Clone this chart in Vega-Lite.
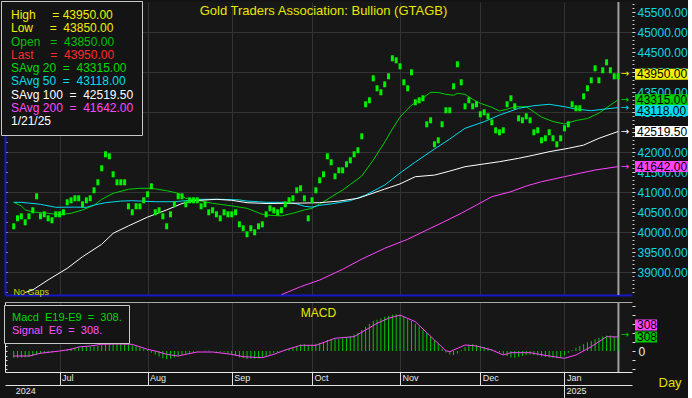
{
  "$schema": "https://vega.github.io/schema/vega-lite/v6.json",
  "background": "#131313",
  "padding": 0,
  "autosize": {"type": "pad"},
  "spacing": 5,
  "config": {
    "view": {"fill": "#171717", "stroke": null},
    "font": "Liberation Sans",
    "axis": {"labelFont": "Liberation Sans", "titleFont": "Liberation Sans"},
    "legend": {"labelFont": "Liberation Sans"}
  },
  "resolve": {"scale": {"color": "independent", "x": "independent", "y": "independent"}, "legend": {"color": "independent"}},
  "datasets": {
    "px": [
      {"i":0,"p":40150},{"i":1,"p":40350},{"i":2,"p":40400},{"i":3,"p":40250},{"i":4,"p":40400},{"i":5,"p":40550},{"i":6,"p":40900},{"i":7,"p":40400},{"i":8,"p":40450},{"i":9,"p":40350},
      {"i":10,"p":40300},{"i":11,"p":40450},{"i":12,"p":40450},{"i":13,"p":40500},{"i":14,"p":40750},{"i":15,"p":40800},{"i":16,"p":40850},{"i":17,"p":40850},{"i":18,"p":40700},{"i":19,"p":40800},
      {"i":20,"p":40850},{"i":21,"p":41050},{"i":22,"p":41250},{"i":23,"p":41600},{"i":24,"p":41950},{"i":25,"p":41900},{"i":26,"p":41450},{"i":27,"p":41250},{"i":28,"p":41250},{"i":29,"p":41250},
      {"i":30,"p":40650},{"i":31,"p":40500},{"i":32,"p":40650},{"i":33,"p":40650},{"i":34,"p":40800},{"i":35,"p":40950},{"i":36,"p":41150},{"i":37,"p":40500},{"i":38,"p":40550},{"i":39,"p":40400},
      {"i":40,"p":40150},{"i":41,"p":40450},{"i":42,"p":40700},{"i":43,"p":40900},{"i":44,"p":40900},{"i":45,"p":40700},{"i":46,"p":40800},{"i":47,"p":40800},{"i":48,"p":40800},{"i":49,"p":40650},
      {"i":50,"p":40700},{"i":51,"p":40500},{"i":52,"p":40550},{"i":53,"p":40450},{"i":54,"p":40350},{"i":55,"p":40500},{"i":56,"p":40450},{"i":57,"p":40450},{"i":58,"p":40500},{"i":59,"p":40200},
      {"i":60,"p":40100},{"i":61,"p":39950},{"i":62,"p":40100},{"i":63,"p":40000},{"i":64,"p":40150},{"i":65,"p":40200},{"i":66,"p":40450},{"i":67,"p":40600},{"i":68,"p":40550},{"i":69,"p":40500},
      {"i":70,"p":40550},{"i":71,"p":40700},{"i":72,"p":40800},{"i":73,"p":40850},{"i":74,"p":41050},{"i":75,"p":41100},{"i":76,"p":40850},{"i":77,"p":40350},{"i":78,"p":40800},{"i":79,"p":41050},
      {"i":80,"p":41300},{"i":81,"p":41450},{"i":82,"p":41900},{"i":83,"p":41750},{"i":84,"p":41400},{"i":85,"p":41550},{"i":86,"p":41550},{"i":87,"p":41700},{"i":88,"p":41800},{"i":89,"p":41950},
      {"i":90,"p":42050},{"i":91,"p":42400},{"i":92,"p":43200},{"i":93,"p":43300},{"i":94,"p":43850},{"i":95,"p":43600},{"i":96,"p":43500},{"i":97,"p":43700},{"i":98,"p":43900},{"i":99,"p":44350},
      {"i":100,"p":44300},{"i":101,"p":44150},{"i":102,"p":43750},{"i":103,"p":43600},{"i":104,"p":44000},{"i":105,"p":43250},{"i":106,"p":43300},{"i":107,"p":43350},{"i":108,"p":42700},{"i":109,"p":42800},
      {"i":110,"p":42200},{"i":111,"p":42300},{"i":112,"p":42700},{"i":113,"p":43050},{"i":114,"p":43050},{"i":115,"p":43650},{"i":116,"p":44200},{"i":117,"p":43750},{"i":118,"p":43150},{"i":119,"p":43300},
      {"i":120,"p":43150},{"i":121,"p":43200},{"i":122,"p":42950},{"i":123,"p":43000},{"i":124,"p":42900},{"i":125,"p":42750},{"i":126,"p":42550},{"i":127,"p":42500},{"i":128,"p":42550},{"i":129,"p":43200},
      {"i":130,"p":43350},{"i":131,"p":43150},{"i":132,"p":42850},{"i":133,"p":42800},{"i":134,"p":42900},{"i":135,"p":42800},{"i":136,"p":42500},{"i":137,"p":42550},{"i":138,"p":42300},{"i":139,"p":42350},
      {"i":140,"p":42500},{"i":141,"p":42350},{"i":142,"p":42200},{"i":143,"p":42350},{"i":144,"p":42600},{"i":145,"p":42700},{"i":146,"p":43200},{"i":147,"p":43100},{"i":148,"p":43100},{"i":149,"p":43400},
      {"i":150,"p":43600},{"i":151,"p":43800},{"i":152,"p":44100},{"i":153,"p":43800},{"i":154,"p":44050},{"i":155,"p":44250},{"i":156,"p":44050},{"i":157,"p":43900},{"i":158,"p":43900}
    ],
    "ma": [
      {"s":"SAvg 20","i":0,"v":40750},{"s":"SAvg 20","i":2,"v":40660},{"s":"SAvg 20","i":3,"v":40560},{"s":"SAvg 20","i":5,"v":40510},{"s":"SAvg 20","i":9,"v":40475},{"s":"SAvg 20","i":12,"v":40440},{"s":"SAvg 20","i":15,"v":40475},{"s":"SAvg 20","i":18,"v":40560},{"s":"SAvg 20","i":21,"v":40675},{"s":"SAvg 20","i":23,"v":40825},{"s":"SAvg 20","i":26,"v":40975},{"s":"SAvg 20","i":30,"v":41075},{"s":"SAvg 20","i":33,"v":41100},{"s":"SAvg 20","i":36,"v":41100},{"s":"SAvg 20","i":40,"v":41040},{"s":"SAvg 20","i":43,"v":40975},{"s":"SAvg 20","i":45,"v":40850},{"s":"SAvg 20","i":49,"v":40780},{"s":"SAvg 20","i":52,"v":40725},{"s":"SAvg 20","i":57,"v":40660},{"s":"SAvg 20","i":61,"v":40600},{"s":"SAvg 20","i":65,"v":40450},{"s":"SAvg 20","i":67,"v":40425},{"s":"SAvg 20","i":70,"v":40410},{"s":"SAvg 20","i":73,"v":40475},{"s":"SAvg 20","i":76,"v":40560},{"s":"SAvg 20","i":78,"v":40600},{"s":"SAvg 20","i":80,"v":40707},{"s":"SAvg 20","i":83,"v":40882},{"s":"SAvg 20","i":86,"v":41057},{"s":"SAvg 20","i":88,"v":41195},{"s":"SAvg 20","i":91,"v":41407},{"s":"SAvg 20","i":94,"v":41807},{"s":"SAvg 20","i":97,"v":42257},{"s":"SAvg 20","i":99,"v":42582},{"s":"SAvg 20","i":101,"v":42882},{"s":"SAvg 20","i":104,"v":43180},{"s":"SAvg 20","i":106,"v":43290},{"s":"SAvg 20","i":109,"v":43500},{"s":"SAvg 20","i":111,"v":43495},{"s":"SAvg 20","i":113,"v":43450},{"s":"SAvg 20","i":115,"v":43425},{"s":"SAvg 20","i":116,"v":43475},{"s":"SAvg 20","i":118,"v":43450},{"s":"SAvg 20","i":120,"v":43325},{"s":"SAvg 20","i":122,"v":43225},{"s":"SAvg 20","i":125,"v":43125},{"s":"SAvg 20","i":127,"v":43035},{"s":"SAvg 20","i":129,"v":43075},{"s":"SAvg 20","i":131,"v":43140},{"s":"SAvg 20","i":134,"v":43140},{"s":"SAvg 20","i":138,"v":42880},{"s":"SAvg 20","i":141,"v":42770},{"s":"SAvg 20","i":144,"v":42707},{"s":"SAvg 20","i":147,"v":42795},{"s":"SAvg 20","i":150,"v":42845},{"s":"SAvg 20","i":153,"v":42980},{"s":"SAvg 20","i":156,"v":43180},{"s":"SAvg 20","i":158,"v":43315},
      {"s":"SAvg 50","i":0,"v":40750},{"s":"SAvg 50","i":2,"v":40750},{"s":"SAvg 50","i":7,"v":40700},{"s":"SAvg 50","i":11,"v":40625},{"s":"SAvg 50","i":16,"v":40630},{"s":"SAvg 50","i":19,"v":40625},{"s":"SAvg 50","i":21,"v":40680},{"s":"SAvg 50","i":24,"v":40740},{"s":"SAvg 50","i":28,"v":40780},{"s":"SAvg 50","i":31,"v":40790},{"s":"SAvg 50","i":37,"v":40765},{"s":"SAvg 50","i":42,"v":40765},{"s":"SAvg 50","i":45,"v":40790},{"s":"SAvg 50","i":49,"v":40825},{"s":"SAvg 50","i":54,"v":40825},{"s":"SAvg 50","i":59,"v":40810},{"s":"SAvg 50","i":61,"v":40780},{"s":"SAvg 50","i":64,"v":40765},{"s":"SAvg 50","i":66,"v":40750},{"s":"SAvg 50","i":71,"v":40750},{"s":"SAvg 50","i":74,"v":40710},{"s":"SAvg 50","i":76,"v":40650},{"s":"SAvg 50","i":78,"v":40630},{"s":"SAvg 50","i":80,"v":40675},{"s":"SAvg 50","i":83,"v":40710},{"s":"SAvg 50","i":88,"v":40790},{"s":"SAvg 50","i":92,"v":40930},{"s":"SAvg 50","i":97,"v":41182},{"s":"SAvg 50","i":101,"v":41482},{"s":"SAvg 50","i":105,"v":41757},{"s":"SAvg 50","i":110,"v":42082},{"s":"SAvg 50","i":114,"v":42332},{"s":"SAvg 50","i":118,"v":42600},{"s":"SAvg 50","i":123,"v":42765},{"s":"SAvg 50","i":127,"v":42930},{"s":"SAvg 50","i":132,"v":43100},{"s":"SAvg 50","i":136,"v":43165},{"s":"SAvg 50","i":140,"v":43200},{"s":"SAvg 50","i":144,"v":43140},{"s":"SAvg 50","i":147,"v":43080},{"s":"SAvg 50","i":151,"v":43040},{"s":"SAvg 50","i":154,"v":43075},{"s":"SAvg 50","i":158,"v":43118},
      {"s":"SAvg 100","i":3,"v":38495},{"s":"SAvg 100","i":5,"v":38560},{"s":"SAvg 100","i":9,"v":38810},{"s":"SAvg 100","i":14,"v":39100},{"s":"SAvg 100","i":18,"v":39390},{"s":"SAvg 100","i":23,"v":39700},{"s":"SAvg 100","i":26,"v":39975},{"s":"SAvg 100","i":30,"v":40160},{"s":"SAvg 100","i":35,"v":40380},{"s":"SAvg 100","i":40,"v":40560},{"s":"SAvg 100","i":44,"v":40720},{"s":"SAvg 100","i":47,"v":40790},{"s":"SAvg 100","i":53,"v":40825},{"s":"SAvg 100","i":57,"v":40800},{"s":"SAvg 100","i":61,"v":40740},{"s":"SAvg 100","i":66,"v":40720},{"s":"SAvg 100","i":71,"v":40725},{"s":"SAvg 100","i":75,"v":40730},{"s":"SAvg 100","i":80,"v":40740},{"s":"SAvg 100","i":85,"v":40780},{"s":"SAvg 100","i":90,"v":40850},{"s":"SAvg 100","i":97,"v":41080},{"s":"SAvg 100","i":101,"v":41210},{"s":"SAvg 100","i":105,"v":41390},{"s":"SAvg 100","i":110,"v":41430},{"s":"SAvg 100","i":114,"v":41530},{"s":"SAvg 100","i":118,"v":41640},{"s":"SAvg 100","i":123,"v":41710},{"s":"SAvg 100","i":127,"v":41765},{"s":"SAvg 100","i":132,"v":41850},{"s":"SAvg 100","i":136,"v":41930},{"s":"SAvg 100","i":140,"v":42015},{"s":"SAvg 100","i":145,"v":42100},{"s":"SAvg 100","i":149,"v":42180},{"s":"SAvg 100","i":153,"v":42350},{"s":"SAvg 100","i":158,"v":42519.5},
      {"s":"SAvg 200","i":70,"v":38440},{"s":"SAvg 200","i":75,"v":38640},{"s":"SAvg 200","i":80,"v":38807},{"s":"SAvg 200","i":86,"v":39075},{"s":"SAvg 200","i":91,"v":39330},{"s":"SAvg 200","i":97,"v":39600},{"s":"SAvg 200","i":103,"v":39825},{"s":"SAvg 200","i":108,"v":40057},{"s":"SAvg 200","i":112,"v":40240},{"s":"SAvg 200","i":117,"v":40475},{"s":"SAvg 200","i":121,"v":40682},{"s":"SAvg 200","i":125,"v":40890},{"s":"SAvg 200","i":130,"v":41015},{"s":"SAvg 200","i":134,"v":41157},{"s":"SAvg 200","i":138,"v":41265},{"s":"SAvg 200","i":144,"v":41390},{"s":"SAvg 200","i":148,"v":41475},{"s":"SAvg 200","i":152,"v":41557},{"s":"SAvg 200","i":158,"v":41642}
    ],
    "lbl": [
      {"s":"High","v":43950},{"s":"SAvg 20","v":43315},{"s":"SAvg 50","v":43118},{"s":"SAvg 100","v":42519.5},{"s":"SAvg 200","v":41642}
    ],
    "mc": [
      {"s":"Macd","i":0,"v":-150},{"s":"Macd","i":1,"v":-150},{"s":"Macd","i":2,"v":-145},{"s":"Macd","i":3,"v":-140},{"s":"Macd","i":4,"v":-130},{"s":"Macd","i":5,"v":-110},{"s":"Macd","i":6,"v":-80},{"s":"Macd","i":7,"v":-60},{"s":"Macd","i":8,"v":-50},{"s":"Macd","i":9,"v":-40},
      {"s":"Macd","i":10,"v":-30},{"s":"Macd","i":11,"v":-20},{"s":"Macd","i":12,"v":0},{"s":"Macd","i":13,"v":20},{"s":"Macd","i":14,"v":40},{"s":"Macd","i":15,"v":60},{"s":"Macd","i":16,"v":70},{"s":"Macd","i":17,"v":80},{"s":"Macd","i":18,"v":85},{"s":"Macd","i":19,"v":90},
      {"s":"Macd","i":20,"v":95},{"s":"Macd","i":21,"v":100},{"s":"Macd","i":22,"v":110},{"s":"Macd","i":23,"v":130},{"s":"Macd","i":24,"v":150},{"s":"Macd","i":25,"v":160},{"s":"Macd","i":26,"v":160},{"s":"Macd","i":27,"v":160},{"s":"Macd","i":28,"v":160},{"s":"Macd","i":29,"v":150},
      {"s":"Macd","i":30,"v":140},{"s":"Macd","i":31,"v":130},{"s":"Macd","i":32,"v":110},{"s":"Macd","i":33,"v":80},{"s":"Macd","i":34,"v":50},{"s":"Macd","i":35,"v":20},{"s":"Macd","i":36,"v":-40},{"s":"Macd","i":37,"v":-80},{"s":"Macd","i":38,"v":-120},{"s":"Macd","i":39,"v":-160},
      {"s":"Macd","i":40,"v":-180},{"s":"Macd","i":41,"v":-170},{"s":"Macd","i":42,"v":-140},{"s":"Macd","i":43,"v":-110},{"s":"Macd","i":44,"v":-90},{"s":"Macd","i":45,"v":-70},{"s":"Macd","i":46,"v":-40},{"s":"Macd","i":47,"v":-20},{"s":"Macd","i":48,"v":-10},{"s":"Macd","i":49,"v":0},
      {"s":"Macd","i":50,"v":10},{"s":"Macd","i":51,"v":10},{"s":"Macd","i":52,"v":0},{"s":"Macd","i":53,"v":-10},{"s":"Macd","i":54,"v":-20},{"s":"Macd","i":55,"v":-30},{"s":"Macd","i":56,"v":-50},{"s":"Macd","i":57,"v":-80},{"s":"Macd","i":58,"v":-110},{"s":"Macd","i":59,"v":-140},
      {"s":"Macd","i":60,"v":-160},{"s":"Macd","i":61,"v":-175},{"s":"Macd","i":62,"v":-170},{"s":"Macd","i":63,"v":-170},{"s":"Macd","i":64,"v":-160},{"s":"Macd","i":65,"v":-140},{"s":"Macd","i":66,"v":-110},{"s":"Macd","i":67,"v":-80},{"s":"Macd","i":68,"v":-50},{"s":"Macd","i":69,"v":-30},
      {"s":"Macd","i":70,"v":-10},{"s":"Macd","i":71,"v":20},{"s":"Macd","i":72,"v":50},{"s":"Macd","i":73,"v":80},{"s":"Macd","i":74,"v":110},{"s":"Macd","i":75,"v":140},{"s":"Macd","i":76,"v":150},{"s":"Macd","i":77,"v":130},{"s":"Macd","i":78,"v":140},{"s":"Macd","i":79,"v":160},
      {"s":"Macd","i":80,"v":180},{"s":"Macd","i":81,"v":200},{"s":"Macd","i":82,"v":240},{"s":"Macd","i":83,"v":260},{"s":"Macd","i":84,"v":260},{"s":"Macd","i":85,"v":270},{"s":"Macd","i":86,"v":280},{"s":"Macd","i":87,"v":300},{"s":"Macd","i":88,"v":330},{"s":"Macd","i":89,"v":360},
      {"s":"Macd","i":90,"v":400},{"s":"Macd","i":91,"v":460},{"s":"Macd","i":92,"v":530},{"s":"Macd","i":93,"v":600},{"s":"Macd","i":94,"v":660},{"s":"Macd","i":95,"v":690},{"s":"Macd","i":96,"v":720},{"s":"Macd","i":97,"v":750},{"s":"Macd","i":98,"v":770},{"s":"Macd","i":99,"v":800},
      {"s":"Macd","i":100,"v":810},{"s":"Macd","i":101,"v":790},{"s":"Macd","i":102,"v":750},{"s":"Macd","i":103,"v":700},{"s":"Macd","i":104,"v":660},{"s":"Macd","i":105,"v":600},{"s":"Macd","i":106,"v":540},{"s":"Macd","i":107,"v":470},{"s":"Macd","i":108,"v":390},{"s":"Macd","i":109,"v":320},
      {"s":"Macd","i":110,"v":240},{"s":"Macd","i":111,"v":150},{"s":"Macd","i":112,"v":50},{"s":"Macd","i":113,"v":-30},{"s":"Macd","i":114,"v":-80},{"s":"Macd","i":115,"v":-90},{"s":"Macd","i":116,"v":-60},{"s":"Macd","i":117,"v":20},{"s":"Macd","i":118,"v":90},{"s":"Macd","i":119,"v":140},
      {"s":"Macd","i":120,"v":150},{"s":"Macd","i":121,"v":130},{"s":"Macd","i":122,"v":110},{"s":"Macd","i":123,"v":90},{"s":"Macd","i":124,"v":70},{"s":"Macd","i":125,"v":40},{"s":"Macd","i":126,"v":10},{"s":"Macd","i":127,"v":-30},{"s":"Macd","i":128,"v":-80},{"s":"Macd","i":129,"v":-110},
      {"s":"Macd","i":130,"v":-140},{"s":"Macd","i":131,"v":-150},{"s":"Macd","i":132,"v":-130},{"s":"Macd","i":133,"v":-110},{"s":"Macd","i":134,"v":-90},{"s":"Macd","i":135,"v":-80},{"s":"Macd","i":136,"v":-90},{"s":"Macd","i":137,"v":-100},{"s":"Macd","i":138,"v":-120},{"s":"Macd","i":139,"v":-130},
      {"s":"Macd","i":140,"v":-140},{"s":"Macd","i":141,"v":-150},{"s":"Macd","i":142,"v":-160},{"s":"Macd","i":143,"v":-150},{"s":"Macd","i":144,"v":-100},{"s":"Macd","i":145,"v":-40},{"s":"Macd","i":146,"v":20},{"s":"Macd","i":147,"v":70},{"s":"Macd","i":148,"v":110},{"s":"Macd","i":149,"v":150},
      {"s":"Macd","i":150,"v":190},{"s":"Macd","i":151,"v":220},{"s":"Macd","i":152,"v":260},{"s":"Macd","i":153,"v":290},{"s":"Macd","i":154,"v":320},{"s":"Macd","i":155,"v":340},{"s":"Macd","i":156,"v":340},{"s":"Macd","i":157,"v":320},{"s":"Macd","i":158,"v":308},
      {"s":"Signal","i":0,"v":-110},{"s":"Signal","i":4,"v":-110},{"s":"Signal","i":7,"v":-50},{"s":"Signal","i":12,"v":0},{"s":"Signal","i":15,"v":37},{"s":"Signal","i":17,"v":88},{"s":"Signal","i":20,"v":110},{"s":"Signal","i":23,"v":147},{"s":"Signal","i":27,"v":155},{"s":"Signal","i":31,"v":147},{"s":"Signal","i":35,"v":37},{"s":"Signal","i":37,"v":0},{"s":"Signal","i":40,"v":-73},{"s":"Signal","i":43,"v":-110},{"s":"Signal","i":45,"v":-73},{"s":"Signal","i":48,"v":-22},{"s":"Signal","i":52,"v":-22},{"s":"Signal","i":57,"v":-73},{"s":"Signal","i":60,"v":-125},{"s":"Signal","i":65,"v":-147},{"s":"Signal","i":68,"v":-73},{"s":"Signal","i":71,"v":22},{"s":"Signal","i":75,"v":125},{"s":"Signal","i":79,"v":125},{"s":"Signal","i":84,"v":280},{"s":"Signal","i":89,"v":315},{"s":"Signal","i":95,"v":610},{"s":"Signal","i":98,"v":720},{"s":"Signal","i":101,"v":790},{"s":"Signal","i":105,"v":645},{"s":"Signal","i":110,"v":242},{"s":"Signal","i":113,"v":7},{"s":"Signal","i":114,"v":-15},{"s":"Signal","i":118,"v":132},{"s":"Signal","i":121,"v":110},{"s":"Signal","i":125,"v":22},{"s":"Signal","i":128,"v":-88},{"s":"Signal","i":130,"v":-37},{"s":"Signal","i":135,"v":-37},{"s":"Signal","i":140,"v":-110},{"s":"Signal","i":144,"v":-160},{"s":"Signal","i":147,"v":-88},{"s":"Signal","i":151,"v":95},{"s":"Signal","i":155,"v":315},{"s":"Signal","i":158,"v":308}
    ],
    "mlbl": [{"s":"Macd","v":308},{"s":"Signal","v":308}]
  },
  "vconcat": [
    {
      "width": 627,
      "height": 293,
      "title": {"text": "Gold Traders Association: Bullion (GTAGB)", "frame": "group", "anchor": "middle", "offset": -23, "baseline": "middle", "color": "#e8e800", "fontSize": 13, "fontWeight": "normal", "font": "Liberation Sans", "dx": 5},
      "resolve": {"axis": {"x": "independent", "y": "independent"}},
      "layer": [
        {
          "data": {"values": [{}]},
          "mark": {"type": "rule", "color": "#a0a0a0", "strokeWidth": 2},
          "encoding": {"x": {"datum": 158.1, "type": "quantitative", "scale": {"domain": [-2.275, 161.65], "nice": false, "zero": false}, "axis": null}}
        },
        {
          "data": {"name": "ma"},
          "mark": {"type": "line", "strokeWidth": 1, "clip": true},
          "encoding": {
            "x": {"field": "i", "type": "quantitative", "scale": {"domain": [-2.275, 161.65], "nice": false, "zero": false}, "axis": null},
            "y": {"field": "v", "type": "quantitative", "scale": {"domain": [38432.5, 45757.5], "nice": false, "zero": false},
                  "axis": {"orient": "left", "values": [38500,38750,39000,39250,39500,39750,40000,40250,40500,40750,41000,41250,41500,41750,42000,42250,42500,42750,43000,43250,43500,43750,44000,44250,44500,44750,45000,45250,45500,45750], "tickSize": -2, "tickColor": "#e0e0e0", "labels": false, "domain": true, "domainColor": "#1818c8", "domainWidth": 2, "grid": false, "title": null}},
            "color": {"field": "s", "type": "nominal",
              "scale": {"domain": ["High","Low","Open","Last","SAvg 20","SAvg 50","SAvg 100","SAvg 200","Date"], "range": ["#f0f000","#f0f000","#00c000","#ff2a2a","#00d000","#00dcec","#ffffff","#ff44ff","#ffffff"]},
              "legend": {
                "orient": "none", "legendX": -4, "legendY": -1, "title": null, "direction": "vertical",
                "fillColor": "#141414", "strokeColor": "#c8c8c8", "padding": 8,
                "symbolType": "circle", "symbolSize": 0.01, "symbolOpacity": 0, "symbolStrokeWidth": 0, "symbolFillColor": "transparent", "symbolStrokeColor": "transparent", "labelOffset": -10,
                "labelFont": "Liberation Sans", "labelFontSize": 12, "rowPadding": 1.25, "labelLimit": 200,
                "labelExpr": "datum.label == 'High' ? 'High\u00a0\u00a0\u00a0\u00a0\u00a0=\u00a043950.00' : datum.label == 'Low' ? 'Low\u00a0\u00a0\u00a0\u00a0\u00a0=\u00a0\u00a043850.00' : datum.label == 'Open' ? 'Open\u00a0\u00a0\u00a0=\u00a0\u00a043850.00' : datum.label == 'Last' ? 'Last\u00a0\u00a0\u00a0\u00a0\u00a0=\u00a0\u00a043950.00' : datum.label == 'SAvg 20' ? 'SAvg\u00a020\u00a0\u00a0=\u00a0\u00a043315.00' : datum.label == 'SAvg 50' ? 'SAvg\u00a050\u00a0\u00a0=\u00a0\u00a043118.00' : datum.label == 'SAvg 100' ? 'SAvg\u00a0100\u00a0\u00a0=\u00a0\u00a042519.50' : datum.label == 'SAvg 200' ? 'SAvg\u00a0200\u00a0\u00a0=\u00a0\u00a041642.00' : '\u00a0\u00a01/21/25'",
                "labelColor": {"expr": "datum.value == 'High' || datum.value == 'Low' ? '#f0f000' : datum.value == 'Open' ? '#00c000' : datum.value == 'Last' ? '#ff2a2a' : datum.value == 'SAvg 20' ? '#00dc00' : datum.value == 'SAvg 50' ? '#00dcec' : datum.value == 'SAvg 200' ? '#ff48ff' : '#ffffff'"}
              }
            }
          }
        },
        {
          "data": {"name": "px"},
          "mark": {"type": "point", "shape": "M-1.5,-3H1.5V3H-1.5Z", "size": 4, "filled": true, "opacity": 1, "color": "#00f000", "strokeWidth": 0, "clip": true},
          "encoding": {
            "x": {"field": "i", "type": "quantitative", "scale": {"domain": [-2.275, 161.65], "nice": false, "zero": false},
                  "axis": {"orient": "bottom", "values": [12,35,57,78,101,122,144], "labels": false, "ticks": false, "domain": true, "domainColor": "#1818c8", "domainWidth": 2, "grid": true, "gridColor": "#333333", "title": "No Gaps", "titleX": 8, "titleY": -1, "titleAlign": "left", "titleBaseline": "alphabetic", "titleColor": "#d8d800", "titleFontSize": 9, "titleFontWeight": "normal", "titlePadding": 0}},
            "y": {"field": "p", "type": "quantitative", "scale": {"domain": [38432.5, 45757.5], "nice": false, "zero": false},
                  "axis": {"orient": "right", "values": [39000,39500,40000,40500,41000,41500,42000,42500,43000,43500,44000,44500,45000,45500], "format": ".2f", "labelColor": "#10d8e8", "labelFontSize": 12, "labelPadding": 2, "tickSize": 3, "tickColor": "#e0e0e0", "domain": false, "grid": false, "title": null, "labelOverlap": false, "labelFlush": false}}
          }
        },
        {
          "data": {"name": "lbl"},
          "transform": [{"filter": "datum.s != 'SAvg 50'"}],
          "mark": {"type": "point", "shape": "M3,-5.5H56V5.5H3Z", "size": 4, "filled": true, "opacity": 1, "strokeWidth": 0},
          "encoding": {
            "x": {"value": "width"},
            "y": {"field": "v", "type": "quantitative", "scale": {"domain": [38432.5, 45757.5], "nice": false, "zero": false},
                  "axis": {"orient": "right", "values": [39000,40000,41000,42000,43000,44000,45000], "labels": false, "ticks": false, "domain": false, "grid": true, "gridColor": "#333333", "title": null}},
            "color": {"field": "s", "type": "nominal"}
          }
        },
        {
          "data": {"name": "lbl"},
          "transform": [{"filter": "datum.s == 'SAvg 50'"}],
          "mark": {"type": "point", "shape": "M3,-2.5H56V8.5H3Z", "size": 4, "filled": true, "opacity": 1, "strokeWidth": 0},
          "encoding": {
            "x": {"value": "width"},
            "y": {"field": "v", "type": "quantitative", "scale": {"domain": [38432.5, 45757.5], "nice": false, "zero": false}, "axis": null},
            "color": {"field": "s", "type": "nominal"}
          }
        },
        {
          "data": {"name": "lbl"},
          "transform": [{"filter": "datum.s != 'SAvg 50'"}],
          "mark": {"type": "text", "dx": 5, "align": "left", "baseline": "middle", "fontSize": 12, "font": "Liberation Sans", "color": "#000000"},
          "encoding": {
            "x": {"value": "width"},
            "y": {"field": "v", "type": "quantitative", "scale": {"domain": [38432.5, 45757.5], "nice": false, "zero": false}, "axis": null},
            "text": {"field": "v", "type": "quantitative", "format": ".2f"}
          }
        },
        {
          "data": {"name": "lbl"},
          "transform": [{"filter": "datum.s == 'SAvg 50'"}],
          "mark": {"type": "text", "dx": 5, "dy": 3, "align": "left", "baseline": "middle", "fontSize": 12, "font": "Liberation Sans", "color": "#000000"},
          "encoding": {
            "x": {"value": "width"},
            "y": {"field": "v", "type": "quantitative", "scale": {"domain": [38432.5, 45757.5], "nice": false, "zero": false}, "axis": null},
            "text": {"field": "v", "type": "quantitative", "format": ".2f"}
          }
        },
        {
          "data": {"name": "lbl"},
          "mark": {"type": "text", "dx": -7, "align": "center", "baseline": "middle", "fontSize": 10, "font": "DejaVu Sans"},
          "encoding": {
            "x": {"value": "width"},
            "y": {"field": "v", "type": "quantitative", "scale": {"domain": [38432.5, 45757.5], "nice": false, "zero": false},
                  "axis": {"orient": "right", "values": [38500,38600,38700,38800,38900,39000,39100,39200,39300,39400,39500,39600,39700,39800,39900,40000,40100,40200,40300,40400,40500,40600,40700,40800,40900,41000,41100,41200,41300,41400,41500,41600,41700,41800,41900,42000,42100,42200,42300,42400,42500,42600,42700,42800,42900,43000,43100,43200,43300,43400,43500,43600,43700,43800,43900,44000,44100,44200,44300,44400,44500,44600,44700,44800,44900,45000,45100,45200,45300,45400,45500,45600,45700], "tickSize": 2, "tickColor": "#c8c8c8", "labels": false, "domain": false, "grid": false, "title": null}},
            "text": {"value": "→"},
            "color": {"field": "s", "type": "nominal"}
          }
        }
      ]
    },
    {
      "width": 627,
      "height": 70,
      "title": {"text": "MACD", "frame": "group", "anchor": "middle", "offset": -24, "baseline": "middle", "color": "#e8e800", "fontSize": 12, "fontWeight": "normal", "font": "Liberation Sans"},
      "resolve": {"axis": {"x": "independent", "y": "independent"}},
      "layer": [
        {
          "data": {"values": [{}]},
          "mark": {"type": "rule", "color": "#a0a0a0", "strokeWidth": 2},
          "encoding": {"x": {"datum": 158.1, "type": "quantitative", "scale": {"domain": [-2.275, 161.65], "nice": false, "zero": false},
            "axis": {"orient": "top", "values": [12,35,57,78,101,122,144], "labels": false, "ticks": false, "domain": true, "domainColor": "#a8a8a8", "grid": true, "gridColor": "#333333", "title": null}}}
        },
        {
          "data": {"name": "mc"},
          "transform": [{"filter": "datum.s == 'Macd'"}],
          "mark": {"type": "rule", "strokeWidth": 1},
          "encoding": {
            "x": {"field": "i", "type": "quantitative", "scale": {"domain": [-2.275, 161.65], "nice": false, "zero": false},
                  "axis": {"orient": "bottom", "values": [12,35,57,78,101,122,144], "labelExpr": "datum.value == 12 ? 'Jul' : datum.value == 35 ? 'Aug' : datum.value == 57 ? 'Sep' : datum.value == 78 ? 'Oct' : datum.value == 101 ? 'Nov' : datum.value == 122 ? 'Dec' : 'Jan'", "tickSize": 13, "tickColor": "#e0e0e0", "domainColor": "#e8e8e8", "labelPadding": -12, "labelAlign": "left", "labelBaseline": "top", "labelOffset": 2, "labelColor": "#e8e8e8", "labelFontSize": 9, "grid": false, "labelFlush": false, "labelOverlap": false, "title": "Day", "titleX": 653, "titleY": 10, "titleAlign": "left", "titleBaseline": "middle", "titleColor": "#e0e000", "titleFontSize": 13, "titleFontWeight": "normal", "titlePadding": 0}},
            "y": {"field": "v", "type": "quantitative", "scale": {"domain": [-462, 1078], "nice": false, "zero": false},
                  "axis": {"orient": "right", "values": [-400,-200,0,200,400,600,800,1000], "labelExpr": "datum.value == 0 ? '0' : ''", "tickSize": 3, "tickColor": "#e0e0e0", "labelColor": "#f0f0f0", "labelFontSize": 12, "labelPadding": 3, "domain": false, "grid": false, "title": null}},
            "y2": {"datum": 0},
            "color": {"field": "s", "type": "nominal",
              "scale": {"domain": ["Macd", "Signal"], "range": ["#00c800", "#ff44ff"]},
              "legend": {
                "orient": "none", "legendX": -1, "legendY": 3, "title": null, "direction": "vertical",
                "fillColor": "#141414", "strokeColor": "#c8c8c8", "padding": 7,
                "symbolType": "circle", "symbolSize": 0.01, "symbolOpacity": 0, "symbolStrokeWidth": 0, "symbolFillColor": "transparent", "symbolStrokeColor": "transparent", "labelOffset": -10,
                "labelFont": "Liberation Sans", "labelFontSize": 11, "rowPadding": 1, "labelLimit": 200,
                "labelExpr": "datum.label == 'Macd' ? 'Macd\u00a0\u00a0E19-E9\u00a0\u00a0=\u00a0\u00a0308.' : 'Signal\u00a0\u00a0E6\u00a0\u00a0=\u00a0\u00a0308.'",
                "labelColor": {"expr": "datum.value == 'Macd' ? '#00d800' : '#ff50ff'"}
              }
            }
          }
        },
        {
          "data": {"name": "mc"},
          "transform": [{"filter": "datum.s == 'Signal'"}],
          "mark": {"type": "line", "strokeWidth": 1},
          "encoding": {
            "x": {"field": "i", "type": "quantitative", "scale": {"domain": [-2.275, 161.65], "nice": false, "zero": false},
                  "axis": {"orient": "bottom", "offset": 13, "values": [0, 144], "labelExpr": "datum.value == 0 ? '2024' : '2025'", "tickSize": 13, "tickColor": {"condition": {"test": "datum.value == 0", "value": "transparent"}, "value": "#e0e0e0"}, "domainColor": "#e0e0e0", "labelPadding": -12, "labelAlign": "left", "labelBaseline": "top", "labelOffset": 1.5, "labelColor": "#e8e8e8", "labelFontSize": 9, "grid": false, "title": null, "labelFlush": false, "labelOverlap": false}},
            "y": {"field": "v", "type": "quantitative", "scale": {"domain": [-462, 1078], "nice": false, "zero": false},
                  "axis": {"orient": "left", "values": [-400,-300,-200,-100,0,100,200,300,400,500,600,700,800,900,1000], "tickSize": -2, "tickColor": "#e0e0e0", "labels": false, "domain": true, "domainColor": "#e0e0e0", "grid": false, "title": null}},
            "color": {"field": "s", "type": "nominal"}
          }
        },
        {
          "data": {"name": "mlbl"},
          "transform": [{"filter": "datum.s == 'Macd'"}],
          "mark": {"type": "point", "shape": "M3,-5.5H25V5.5H3Z", "size": 4, "filled": true, "opacity": 1, "strokeWidth": 0},
          "encoding": {
            "x": {"value": "width"},
            "y": {"field": "v", "type": "quantitative", "scale": {"domain": [-462, 1078], "nice": false, "zero": false}, "axis": null},
            "color": {"field": "s", "type": "nominal"}
          }
        },
        {
          "data": {"name": "mlbl"},
          "transform": [{"filter": "datum.s == 'Signal'"}],
          "mark": {"type": "point", "shape": "M3,-17.5H25V-6.5H3Z", "size": 4, "filled": true, "opacity": 1, "strokeWidth": 0},
          "encoding": {
            "x": {"value": "width"},
            "y": {"field": "v", "type": "quantitative", "scale": {"domain": [-462, 1078], "nice": false, "zero": false}, "axis": null},
            "color": {"field": "s", "type": "nominal"}
          }
        },
        {
          "data": {"name": "mlbl"},
          "transform": [{"filter": "datum.s == 'Macd'"}],
          "mark": {"type": "text", "dx": 5, "align": "left", "baseline": "middle", "fontSize": 12, "font": "Liberation Sans", "color": "#000000"},
          "encoding": {
            "x": {"value": "width"},
            "y": {"field": "v", "type": "quantitative", "scale": {"domain": [-462, 1078], "nice": false, "zero": false}, "axis": null},
            "text": {"field": "v", "type": "quantitative", "format": "d"}
          }
        },
        {
          "data": {"name": "mlbl"},
          "transform": [{"filter": "datum.s == 'Signal'"}],
          "mark": {"type": "text", "dx": 5, "dy": -12, "align": "left", "baseline": "middle", "fontSize": 12, "font": "Liberation Sans", "color": "#000000"},
          "encoding": {
            "x": {"value": "width"},
            "y": {"field": "v", "type": "quantitative", "scale": {"domain": [-462, 1078], "nice": false, "zero": false}, "axis": null},
            "text": {"field": "v", "type": "quantitative", "format": "d"}
          }
        },
        {
          "data": {"name": "mlbl"},
          "transform": [{"filter": "datum.s == 'Macd'"}],
          "mark": {"type": "text", "dx": -7, "dy": -2, "align": "center", "baseline": "middle", "fontSize": 10, "font": "DejaVu Sans"},
          "encoding": {
            "x": {"value": "width"},
            "y": {"field": "v", "type": "quantitative", "scale": {"domain": [-462, 1078], "nice": false, "zero": false}, "axis": null},
            "text": {"value": "→"},
            "color": {"field": "s", "type": "nominal"}
          }
        }
      ]
    }
  ]
}
